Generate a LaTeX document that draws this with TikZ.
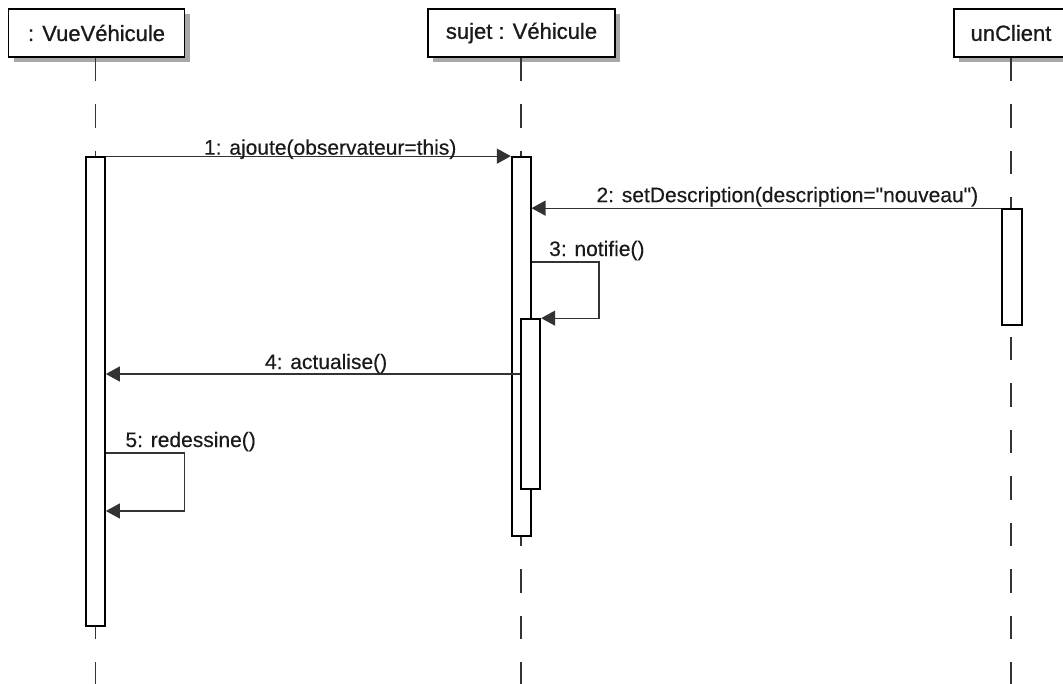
\documentclass[tikz,border=0pt]{standalone}
\usepackage{fontspec}
\setmainfont{Liberation Sans}
\newfontfamily\titlefont{Liberation Sans}[FakeBold=0.9]
\newfontfamily\labelfont{Liberation Sans}[FakeBold=0.35]
\usetikzlibrary{arrows.meta,shadows}
\definecolor{ink}{HTML}{1A1A1A}
\definecolor{wire}{HTML}{333333}
\definecolor{shade}{HTML}{A8A8A8}
\begin{document}
\begin{tikzpicture}[x=1pt,y=-1pt,
  obj/.style={draw=black, line width=1.6pt, fill=white, minimum height=48pt, inner sep=0pt,
    font=\titlefont\fontsize{22}{26}\selectfont, text=ink,
    drop shadow={shadow xshift=5pt, shadow yshift=-5pt, fill=shade, opacity=1}},
  lifeline/.style={draw=wire, line width=1.4pt, dash pattern=on 23.5pt off 23pt},
  act/.style={draw=black, line width=1.7pt, fill=white, inner sep=0pt},
  msg/.style={draw=wire, line width=1.3pt, -{Triangle[length=14pt,width=15pt]}},
  lbl/.style={font=\labelfont\fontsize{21}{25}\selectfont, text=ink, inner sep=0pt, anchor=base}
]
\useasboundingbox[fill=white] (0,0) rectangle (1063,683);

% objects
\node[obj, minimum width=176pt] (v) at (96.5,33) {: VueVéhicule};
\node[obj, minimum width=187pt] (s) at (521.5,33) {sujet : Véhicule};
\node[obj, minimum width=114pt] (u) at (1011,33) {unClient};

% lifeline ends
\coordinate (vend) at (95.5,690);
\coordinate (send) at (521,690);
\coordinate (uend) at (1011,690);
\draw[lifeline] (v.south -| vend) -- (vend);
\draw[lifeline] (s.south -| send) -- (send);
\draw[lifeline] (u.south -| uend) -- (uend);

% activations
\node[act, minimum width=19pt, minimum height=469pt] (va) at (95.5,391.5) {};
\node[act, minimum width=19pt, minimum height=379pt] (so) at (521.2,346.5) {};
\node[act, minimum width=19.6pt, minimum height=170pt] (si) at (530.5,404) {};
\node[act, minimum width=20pt, minimum height=116pt] (uc) at (1011.8,267) {};

% messages
\draw[msg] (va.north east) -- node[lbl, pos=0.554, yshift=1.5pt] (m1) {1: ajoute(observateur=this)} (so.north west);
\draw[msg] (uc.north west) -- node[lbl, pos=0.455, yshift=6pt] (m2) {2: setDescription(description=\char34 nouveau\char34)} (so.east |- uc.north west);
\draw[msg] (so.east |- 0,262) node[lbl, anchor=base west, xshift=17pt, yshift=6pt] (m3) {3: notifie()}
  -- ++(67.5,0) |- (si.north east);
\draw[msg] (si.west |- 0,374) -- node[lbl, pos=0.468, yshift=5pt] (m4) {4: actualise()} (va.east |- 0,374);
\draw[msg] (va.east |- 0,453) node[lbl, anchor=base west, xshift=19pt, yshift=6pt] (m5) {5: redessine()}
  -- ++(78.5,0) |- (va.east |- 0,511);
\end{tikzpicture}
\end{document}
